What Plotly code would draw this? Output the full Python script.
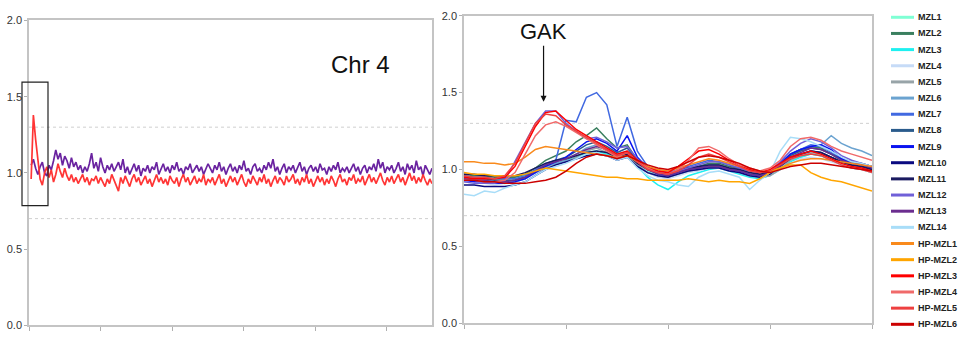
import numpy as np
import plotly.graph_objects as go

# ---------------- Chr 4 overview (left panel) ----------------
chr4_purple = [
    1.05, 1.09, 1.03, 0.99, 1.04, 1.07, 1.00, 0.98, 1.05, 1.02, 1.08, 1.15, 1.09, 1.13, 1.05, 1.11, 1.08, 1.03, 1.10, 1.04,
    1.07, 1.02, 1.05, 1.00, 1.04, 1.01, 1.06, 1.13, 1.03, 1.07, 1.01, 1.10, 1.04, 1.00, 1.05, 1.02, 1.06, 1.01, 1.04, 1.07,
    1.02, 1.09, 1.00, 1.04, 0.99, 1.03, 1.06, 1.01, 1.05, 0.98, 1.03, 1.01, 1.05, 1.00, 1.04, 1.02, 1.07, 0.99, 1.03, 1.06,
    1.01, 1.04, 1.00, 1.05, 1.02, 1.07, 1.01, 1.03, 0.99, 1.04, 1.02, 1.06, 1.00, 1.03, 1.05, 1.01, 1.04, 0.99, 1.02, 1.06,
    1.03, 1.00, 1.05, 1.02, 1.07, 1.01, 1.04, 0.99, 1.03, 1.06, 1.01, 1.04, 1.00, 1.05, 1.02, 1.08, 1.01, 1.03, 0.99, 1.04,
    1.06, 1.01, 1.03, 1.00, 1.05, 1.02, 1.07, 1.03, 1.09, 1.01, 1.04, 0.99, 1.03, 1.06, 1.00, 1.04, 1.02, 1.05, 1.00, 1.03,
    1.07, 1.01, 1.04, 0.99, 1.03, 1.05, 1.01, 1.04, 1.00, 1.06, 1.02, 1.03, 0.99, 1.04, 1.01, 1.05, 1.02, 1.07, 1.00, 1.03,
    1.01, 1.04, 1.00, 1.03, 1.06, 1.01, 1.04, 0.99, 1.03, 1.05, 1.00, 1.04, 1.02, 1.06, 1.01, 1.09, 1.03, 1.07, 1.00, 1.04,
    1.02, 1.05, 1.00, 1.03, 1.07, 1.01, 1.04, 0.99, 1.06, 1.02, 1.05, 1.00, 1.08, 1.02, 1.04, 0.98, 1.05, 1.02, 0.99, 1.03,
]
chr4_red = [
    0.96, 1.38, 1.22, 1.10, 0.96, 0.92, 1.00, 1.04, 0.97, 1.02, 0.94, 0.99, 1.06, 1.01, 0.97, 1.03, 0.98, 0.95, 0.99, 0.94,
    0.97, 0.93, 0.96, 0.99, 0.94, 0.97, 0.92, 0.96, 0.95, 0.98, 0.93, 0.97, 0.94, 0.91, 0.96, 0.93, 0.99, 0.95, 0.92, 0.88,
    0.97, 0.93, 0.98, 0.95, 0.91, 0.96, 0.99, 0.94, 0.97, 0.92, 0.95, 0.98, 0.93, 0.96, 0.91, 0.95, 0.99, 0.94, 0.97, 0.93,
    0.96, 0.92, 0.98, 0.95, 0.93, 0.97, 0.91, 0.96, 0.99, 0.94, 0.97, 0.92, 0.95, 0.98, 0.93, 0.96, 0.94, 0.99, 0.92, 0.96,
    0.94, 0.97, 0.92, 0.96, 0.99, 0.93, 0.96, 0.91, 0.95, 0.98, 0.94, 0.97, 0.92, 0.96, 0.99, 0.94, 0.91, 0.96, 0.93, 0.98,
    0.95, 0.92, 0.97, 0.94, 0.99, 0.93, 0.96, 0.91, 0.95, 0.98, 0.93, 0.97, 0.95, 0.92, 0.98, 0.94, 0.96, 0.99, 0.93, 0.96,
    0.92, 0.97, 0.94, 0.99, 0.93, 0.96, 0.91, 0.95, 0.98, 0.94, 0.97, 0.92, 0.96, 0.93, 0.98, 0.95, 0.91, 0.96, 0.99, 0.94,
    0.96, 0.92, 0.97, 0.95, 0.99, 0.93, 0.96, 0.94, 0.98, 0.92, 0.96, 0.99, 0.94, 0.97, 0.93, 0.96, 1.00, 0.95, 0.92, 0.97,
    0.94, 0.98, 0.93, 0.96, 0.99, 0.94, 0.97, 0.92, 0.96, 1.00, 0.95, 0.98, 0.93, 0.97, 0.94, 0.99, 0.95, 0.92, 0.96, 0.93,
]
chr4_colors = ["#6a23a0", "#ff3535"]
chr4_xmax = 5.636          # chromosome length in tick units
chr4_start = 0.03

# ---------------- GAK region (right panel) ----------------
region_x = [i / 10 for i in range(41)]
region_names = ["MZL1", "MZL2", "MZL3", "MZL4", "MZL5", "MZL6", "MZL7", "MZL8", "MZL9", "MZL10",
                "MZL11", "MZL12", "MZL13", "MZL14",
                "HP-MZL1", "HP-MZL2", "HP-MZL3", "HP-MZL4", "HP-MZL5", "HP-MZL6"]
region_colors = ["#7fffd4", "#3a7f5f", "#1ef0f0", "#c6dbf7", "#98a4a8", "#6ba3d0", "#4169e1", "#2a5b8c",
                 "#0a14f0", "#0a0a80", "#1a1a60", "#7060d8", "#6b2d8f", "#a8ddf8",
                 "#f98a1c", "#ffa500", "#ff0000", "#f06a6a", "#ee4040", "#cc0000"]
region_values = [
    [0.96, 0.95, 0.95, 0.94, 0.94, 0.95, 0.96, 0.99, 1.02, 1.04, 1.05, 1.07, 1.10, 1.11, 1.10, 1.07, 1.09, 1.03, 0.99, 0.96, 0.95,
     0.97, 0.99, 1.00, 1.02, 1.02, 1.00, 0.99, 0.97, 0.96, 0.97, 1.01, 1.06, 1.08, 1.10, 1.09, 1.06, 1.04, 1.02, 1.01, 0.99],
    [0.97, 0.96, 0.96, 0.95, 0.95, 0.95, 0.97, 1.01, 1.06, 1.09, 1.12, 1.18, 1.22, 1.27, 1.20, 1.14, 1.16, 1.06, 1.00, 0.98, 0.97,
     0.99, 1.01, 1.02, 1.04, 1.04, 1.02, 1.01, 0.99, 0.98, 0.99, 1.03, 1.10, 1.13, 1.15, 1.14, 1.10, 1.06, 1.04, 1.03, 1.01],
    [0.94, 0.93, 0.92, 0.92, 0.91, 0.92, 0.94, 0.98, 1.02, 1.04, 1.06, 1.08, 1.11, 1.12, 1.10, 1.07, 1.10, 1.02, 0.95, 0.90, 0.87,
     0.92, 0.96, 0.98, 1.00, 1.01, 0.99, 0.97, 0.95, 0.94, 0.96, 1.00, 1.05, 1.08, 1.10, 1.09, 1.06, 1.03, 1.01, 1.00, 0.98],
    [0.92, 0.91, 0.91, 0.90, 0.91, 0.92, 0.94, 0.97, 1.01, 1.03, 1.05, 1.07, 1.09, 1.10, 1.09, 1.06, 1.08, 1.03, 0.98, 0.95, 0.94,
     0.96, 0.98, 0.99, 1.01, 1.01, 0.99, 0.98, 0.96, 0.95, 0.96, 1.00, 1.04, 1.07, 1.08, 1.07, 1.05, 1.03, 1.01, 1.00, 0.98],
    [0.93, 0.93, 0.92, 0.92, 0.92, 0.93, 0.95, 0.98, 1.01, 1.03, 1.05, 1.08, 1.12, 1.14, 1.11, 1.08, 1.10, 1.03, 0.98, 0.96, 0.95,
     0.97, 0.99, 1.00, 1.01, 1.02, 1.00, 0.98, 0.96, 0.95, 0.96, 1.00, 1.06, 1.09, 1.11, 1.10, 1.08, 1.06, 1.04, 1.03, 1.02],
    [0.94, 0.93, 0.93, 0.92, 0.92, 0.93, 0.95, 0.98, 1.02, 1.04, 1.06, 1.10, 1.14, 1.16, 1.13, 1.10, 1.12, 1.05, 1.00, 0.97, 0.96,
     0.98, 1.00, 1.01, 1.02, 1.02, 1.00, 0.99, 0.97, 0.96, 0.98, 1.03, 1.10, 1.13, 1.15, 1.16, 1.22, 1.17, 1.14, 1.12, 1.09],
    [0.96, 0.95, 0.95, 0.94, 0.94, 0.94, 0.96, 1.00, 1.04, 1.06, 1.32, 1.31, 1.47, 1.50, 1.42, 1.15, 1.34, 1.12, 1.02, 0.99, 0.98,
     1.00, 1.02, 1.04, 1.06, 1.05, 1.03, 1.01, 0.99, 0.98, 0.99, 1.04, 1.10, 1.13, 1.16, 1.15, 1.11, 1.07, 1.05, 1.04, 1.02],
    [0.95, 0.94, 0.94, 0.93, 0.93, 0.93, 0.95, 0.99, 1.03, 1.06, 1.08, 1.12, 1.16, 1.18, 1.15, 1.11, 1.14, 1.06, 1.01, 0.98, 0.97,
     0.99, 1.01, 1.02, 1.03, 1.03, 1.01, 1.00, 0.98, 0.97, 0.98, 1.03, 1.09, 1.12, 1.14, 1.13, 1.10, 1.07, 1.05, 1.04, 1.02],
    [0.93, 0.92, 0.92, 0.91, 0.91, 0.92, 0.94, 0.98, 1.02, 1.05, 1.08, 1.13, 1.18, 1.20, 1.17, 1.12, 1.22, 1.08, 1.01, 0.97, 0.96,
     0.98, 1.00, 1.01, 1.02, 1.02, 1.00, 0.99, 0.97, 0.96, 0.98, 1.04, 1.10, 1.13, 1.15, 1.16, 1.13, 1.07, 1.04, 1.03, 1.01],
    [0.90, 0.90, 0.89, 0.89, 0.89, 0.90, 0.92, 0.96, 1.00, 1.03, 1.05, 1.07, 1.09, 1.10, 1.09, 1.06, 1.08, 1.02, 0.98, 0.96, 0.95,
     0.97, 0.99, 1.00, 1.01, 1.01, 0.99, 0.98, 0.96, 0.95, 0.97, 1.02, 1.07, 1.10, 1.12, 1.11, 1.08, 1.05, 1.03, 1.02, 1.00],
    [0.97, 0.97, 0.96, 0.96, 0.96, 0.96, 0.98, 1.01, 1.04, 1.06, 1.07, 1.09, 1.11, 1.12, 1.11, 1.08, 1.10, 1.04, 1.00, 0.98, 0.97,
     0.99, 1.01, 1.02, 1.03, 1.03, 1.01, 1.00, 0.98, 0.97, 0.98, 1.03, 1.08, 1.10, 1.12, 1.11, 1.08, 1.05, 1.03, 1.02, 1.00],
    [0.92, 0.91, 0.91, 0.91, 0.93, 1.05, 1.18, 1.30, 1.38, 1.38, 1.30, 1.25, 1.20, 1.21, 1.18, 1.14, 1.15, 1.07, 1.01, 0.98, 0.97,
     0.99, 1.01, 1.03, 1.05, 1.05, 1.03, 1.01, 0.99, 0.98, 0.99, 1.05, 1.12, 1.17, 1.20, 1.18, 1.14, 1.09, 1.06, 1.04, 1.02],
    [0.94, 0.93, 0.93, 0.92, 0.92, 0.93, 0.95, 0.99, 1.03, 1.05, 1.07, 1.10, 1.13, 1.15, 1.13, 1.09, 1.11, 1.05, 1.00, 0.97, 0.96,
     0.98, 1.00, 1.01, 1.02, 1.02, 1.00, 0.99, 0.97, 0.96, 0.98, 1.02, 1.08, 1.11, 1.14, 1.13, 1.10, 1.06, 1.04, 1.03, 1.01],
    [0.84, 0.83, 0.86, 0.85, 0.88, 0.90, 0.92, 0.96, 1.00, 1.02, 1.04, 1.07, 1.10, 1.11, 1.09, 1.06, 1.08, 1.01, 0.96, 0.93, 0.92,
     0.90, 0.89, 0.95, 0.98, 0.99, 0.97, 0.95, 0.87, 0.93, 0.98, 1.12, 1.21, 1.20, 1.18, 1.15, 1.12, 1.08, 1.05, 1.04, 1.02],
    [1.05, 1.05, 1.04, 1.04, 1.03, 1.04, 1.08, 1.13, 1.15, 1.14, 1.13, 1.12, 1.11, 1.10, 1.09, 1.08, 1.09, 1.05, 1.02, 1.00, 0.99,
     1.01, 1.03, 1.05, 1.07, 1.06, 1.04, 1.02, 1.00, 0.99, 0.99, 1.01, 1.04, 1.06, 1.07, 1.07, 1.06, 1.05, 1.04, 1.03, 1.02],
    [0.98, 0.97, 0.97, 0.96, 0.96, 0.96, 0.97, 0.99, 1.01, 1.00, 0.99, 0.98, 0.97, 0.96, 0.95, 0.95, 0.94, 0.94, 0.93, 0.93, 0.93,
     0.93, 0.94, 0.93, 0.92, 0.93, 0.92, 0.92, 0.91, 0.94, 0.98, 1.01, 1.03, 1.03, 0.98, 0.95, 0.93, 0.92, 0.90, 0.88, 0.86],
    [0.95, 0.94, 0.94, 0.94, 0.95, 1.02, 1.15, 1.28, 1.37, 1.38, 1.32, 1.26, 1.22, 1.18, 1.14, 1.10, 1.12, 1.06, 1.01, 0.99, 0.98,
     1.02, 1.07, 1.12, 1.13, 1.10, 1.06, 1.03, 1.00, 0.98, 1.00, 1.04, 1.08, 1.10, 1.12, 1.10, 1.07, 1.04, 1.02, 1.01, 0.99],
    [0.93, 0.93, 0.92, 0.92, 0.93, 0.98, 1.10, 1.22, 1.29, 1.31, 1.28, 1.24, 1.20, 1.16, 1.12, 1.08, 1.11, 1.05, 1.01, 0.98, 0.97,
     1.00, 1.06, 1.14, 1.15, 1.12, 1.07, 1.03, 1.01, 0.99, 1.01, 1.06, 1.15, 1.20, 1.21, 1.19, 1.15, 1.12, 1.10, 1.08, 1.06],
    [0.96, 0.95, 0.95, 0.94, 0.96, 1.04, 1.17, 1.30, 1.36, 1.35, 1.29, 1.25, 1.21, 1.17, 1.13, 1.09, 1.11, 1.05, 1.00, 0.98, 0.97,
     0.99, 1.03, 1.08, 1.10, 1.08, 1.05, 1.02, 0.99, 0.98, 0.99, 1.03, 1.07, 1.09, 1.10, 1.09, 1.06, 1.03, 1.01, 1.00, 0.98],
    [0.93, 0.93, 0.92, 0.92, 0.91, 0.91, 0.91, 0.92, 0.93, 0.95, 0.99, 1.04, 1.08, 1.10, 1.09, 1.07, 1.09, 1.06, 1.03, 1.01, 1.00,
     1.02, 1.05, 1.08, 1.09, 1.08, 1.06, 1.04, 1.01, 0.99, 0.98, 1.00, 1.02, 1.03, 1.04, 1.04, 1.03, 1.02, 1.01, 1.00, 0.99],
]

threshold_levels = [1.3, 0.7]
y_ticks = [0.0, 0.5, 1.0, 1.5, 2.0]
gak_pos = (0.78, 1.44)

W, H = 980, 340
FONT = "Liberation Sans, Arial, sans-serif"


def px_x(p):
    return p / W


def px_y(p):
    return (H - p) / H


fig = go.Figure()

chr4_x = np.linspace(chr4_start, chr4_xmax, len(chr4_red))
for vals, col in zip([chr4_purple, chr4_red], chr4_colors):
    fig.add_trace(go.Scatter(x=chr4_x, y=vals, mode="lines", line=dict(color=col, width=1.7),
                             xaxis="x", yaxis="y", showlegend=False, hoverinfo="skip"))

for name, col, vals in zip(region_names, region_colors, region_values):
    fig.add_trace(go.Scatter(x=region_x, y=vals, mode="lines", name=name,
                             line=dict(color=col, width=1.5),
                             xaxis="x2", yaxis="y2", showlegend=False))

axis_line = dict(showline=True, linecolor="#c4c4c4", linewidth=1.5, mirror=True,
                 showgrid=False, zeroline=False, ticks="outside", tickcolor="#b0b0b0")
yaxis_common = dict(axis_line, range=[0, 2], tickvals=y_ticks, tickformat=".1f", ticklen=3,
                    tickfont=dict(family=FONT, size=11, color="#333"))
xaxis_common = dict(axis_line, showticklabels=False, ticklen=4, tick0=0, dtick=1)

fig.update_layout(
    width=W, height=H, margin=dict(l=0, r=0, t=0, b=0),
    paper_bgcolor="white", plot_bgcolor="white", showlegend=False,
    xaxis=dict(xaxis_common, domain=[px_x(29), px_x(432)], range=[0, chr4_xmax], anchor="y"),
    yaxis=dict(yaxis_common, domain=[px_y(331), px_y(15)], anchor="x"),
    xaxis2=dict(xaxis_common, domain=[px_x(464), px_x(872)], range=[0, 4], anchor="y2"),
    yaxis2=dict(yaxis_common, domain=[px_y(329), px_y(10)], anchor="x2"),
)

# dotted threshold lines
for xr, yr in [("x domain", "y"), ("x2 domain", "y2")]:
    for lvl in threshold_levels:
        fig.add_shape(type="line", xref=xr, yref=yr, x0=0, x1=1, y0=lvl, y1=lvl,
                      line=dict(color="#cfcfcf", width=1, dash="dot"), layer="below")

# highlight box at the chromosome start
fig.add_shape(type="rect", xref="paper", yref="paper",
              x0=px_x(22), x1=px_x(48), y0=px_y(207), y1=px_y(79),
              line=dict(color="#222", width=1.2))

fig.add_annotation(text="Chr 4", xref="paper", yref="paper", x=px_x(360), y=px_y(45),
                   showarrow=False, font=dict(family=FONT, size=24, color="#111"))

fig.add_annotation(text="GAK", x=gak_pos[0], y=gak_pos[1], xref="x2", yref="y2",
                   showarrow=True, arrowhead=2, arrowsize=1, arrowwidth=1.2, arrowcolor="#111",
                   ax=0, ay=-70, standoff=0, font=dict(family=FONT, size=22, color="#111"))

# series key
for k, (name, col) in enumerate(zip(region_names, region_colors)):
    yc = 11.7 + k * 16.75
    fig.add_shape(type="line", xref="paper", yref="paper",
                  x0=px_x(891), x1=px_x(914), y0=px_y(yc), y1=px_y(yc),
                  line=dict(color=col, width=3))
    fig.add_annotation(text=name, xref="paper", yref="paper", x=px_x(916), y=px_y(yc),
                       xanchor="left", yanchor="middle", showarrow=False,
                       font=dict(family=FONT, size=9, color="#222", weight="bold"))

fig.write_html("out.html")
